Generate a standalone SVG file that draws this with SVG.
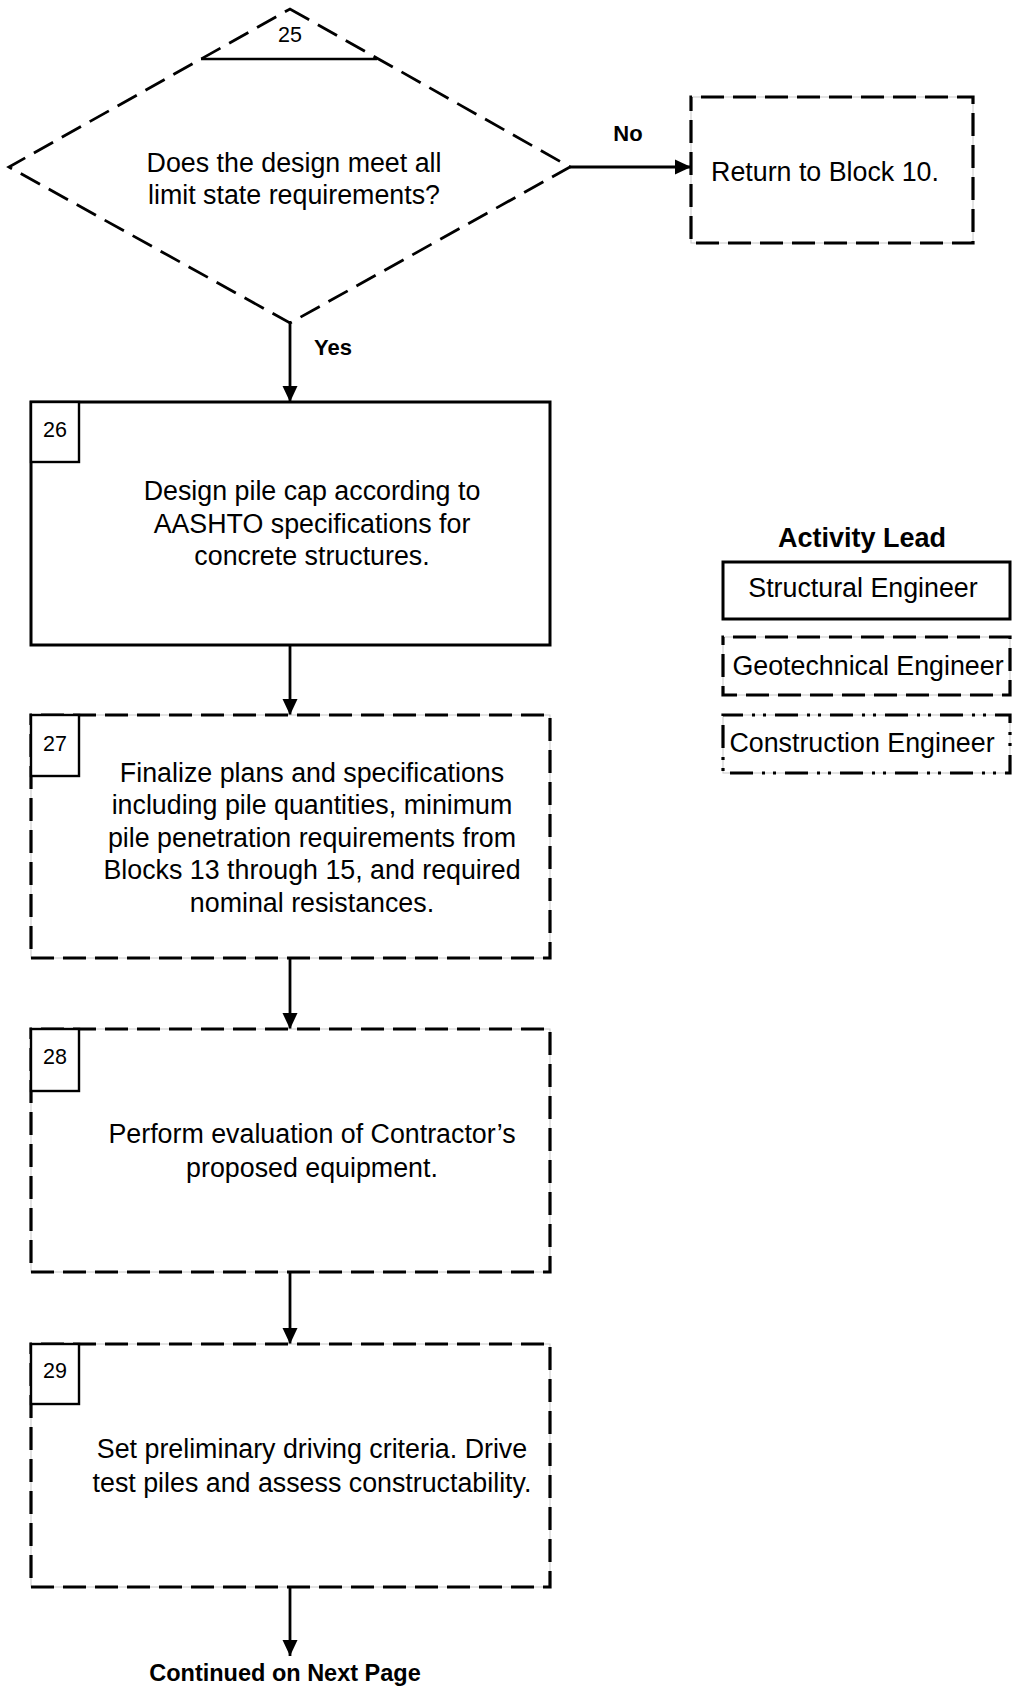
<svg xmlns="http://www.w3.org/2000/svg" width="1012" height="1686" viewBox="0 0 1012 1686">
  <defs>
    <style>
      .t { font-family: "Liberation Sans", Arial, sans-serif; font-size: 26.8px; fill: #000; text-anchor: middle; }
      .num { font-family: "Liberation Sans", Arial, sans-serif; font-size: 21.5px; fill: #000; text-anchor: middle; }
      .lbl { font-family: "Liberation Sans", Arial, sans-serif; font-weight: bold; font-size: 22px; fill: #000; text-anchor: middle; }
      .solid { fill: #fff; stroke: #000; stroke-width: 3; }
      .guide { fill: #fff; stroke: #c8c8c8; stroke-width: 1; }
      .dash { fill: none; stroke: #000; stroke-width: 3.2; stroke-dasharray: 23 9; stroke-dashoffset: 22; }
      .dashdot { fill: none; stroke: #000; stroke-width: 3.2; stroke-dasharray: 23 9 3 8 3 9; stroke-dashoffset: 3; }
      .numbox { fill: #fff; stroke: #000; stroke-width: 2.4; }
      .conn { fill: none; stroke: #000; stroke-width: 2.8; marker-end: url(#arrow); }
    </style>
    <marker id="arrow" markerUnits="userSpaceOnUse" markerWidth="16" markerHeight="16" viewBox="0 0 16 16" refX="16" refY="8" orient="auto">
      <path d="M0,0.5 L16,8 L0,15.5 Z" fill="#000"/>
    </marker>
  </defs>

  <rect width="1012" height="1686" fill="#fff"/>

  <!-- connectors -->
  <g id="connectors">
    <path class="conn" d="M570,167 H691"/>
    <path class="conn" d="M290,323 V402"/>
    <path class="conn" d="M290,645 V715"/>
    <path class="conn" d="M290,958 V1029"/>
    <path class="conn" d="M290,1272 V1344"/>
    <path class="conn" d="M290,1587 V1656"/>
    <text class="lbl" x="628" y="141">No</text>
    <text class="lbl" x="333" y="355">Yes</text>
  </g>

  <!-- decision 25 -->
  <g id="node-25">
    <polygon points="290,9 570,167 290,323 9,167" fill="#fff" stroke="#000" stroke-width="2.8" stroke-dasharray="22 10"/>
    <line x1="201" y1="59" x2="377" y2="59" stroke="#000" stroke-width="2.4"/>
    <text class="num" x="290" y="42">25</text>
    <text class="t" x="294" y="172">Does the design meet all</text>
    <text class="t" x="294" y="204">limit state requirements?</text>
  </g>

  <!-- return target -->
  <g id="node-return">
    <rect class="guide" x="691" y="97" width="282" height="146"/>
    <rect class="dash" x="691" y="97" width="282" height="146"/>
    <text class="t" x="825" y="181">Return to Block 10.</text>
  </g>

  <!-- block 26 -->
  <g id="node-26">
    <rect class="solid" x="31" y="402" width="519" height="243"/>
    <rect class="numbox" x="31" y="402" width="48" height="60"/>
    <text class="num" x="55" y="437">26</text>
    <text class="t" x="312" y="500">Design pile cap according to</text>
    <text class="t" x="312" y="533">AASHTO specifications for</text>
    <text class="t" x="312" y="565">concrete structures.</text>
  </g>

  <!-- block 27 -->
  <g id="node-27">
    <rect class="guide" x="31" y="715" width="519" height="243"/>
    <rect class="dash" x="31" y="715" width="519" height="243"/>
    <rect class="numbox" x="31" y="715" width="48" height="61"/>
    <text class="num" x="55" y="751">27</text>
    <text class="t" x="312" y="782">Finalize plans and specifications</text>
    <text class="t" x="312" y="814">including pile quantities, minimum</text>
    <text class="t" x="312" y="847">pile penetration requirements from</text>
    <text class="t" x="312" y="879">Blocks 13 through 15, and required</text>
    <text class="t" x="312" y="912">nominal resistances.</text>
  </g>

  <!-- block 28 -->
  <g id="node-28">
    <rect class="guide" x="31" y="1029" width="519" height="243"/>
    <rect class="dash" x="31" y="1029" width="519" height="243"/>
    <rect class="numbox" x="31" y="1029" width="48" height="62"/>
    <text class="num" x="55" y="1064">28</text>
    <text class="t" x="312" y="1143">Perform evaluation of Contractor’s</text>
    <text class="t" x="312" y="1177">proposed equipment.</text>
  </g>

  <!-- block 29 -->
  <g id="node-29">
    <rect class="guide" x="31" y="1344" width="519" height="243"/>
    <rect class="dash" x="31" y="1344" width="519" height="243"/>
    <rect class="numbox" x="31" y="1344" width="48" height="60"/>
    <text class="num" x="55" y="1378">29</text>
    <text class="t" x="312" y="1458">Set preliminary driving criteria. Drive</text>
    <text class="t" x="312" y="1492">test piles and assess constructability.</text>
  </g>

  <g id="continued">
    <text class="lbl" x="285" y="1681" style="font-size:23.5px">Continued on Next Page</text>
  </g>

  <!-- legend -->
  <g id="legend">
    <text class="lbl" x="862" y="547" style="font-size:27px">Activity Lead</text>
    <g id="legend-structural">
      <rect class="solid" x="723" y="562" width="287" height="57"/>
      <text class="t" x="863" y="597">Structural Engineer</text>
    </g>
    <g id="legend-geotechnical">
      <rect class="guide" x="723" y="637" width="287" height="58"/>
      <rect class="dash" x="723" y="637" width="287" height="58"/>
      <text class="t" x="868" y="675">Geotechnical Engineer</text>
    </g>
    <g id="legend-construction">
      <rect class="guide" x="723" y="715" width="287" height="58"/>
      <rect class="dashdot" x="723" y="715" width="287" height="58"/>
      <text class="t" x="862" y="752">Construction Engineer</text>
    </g>
  </g>
</svg>
